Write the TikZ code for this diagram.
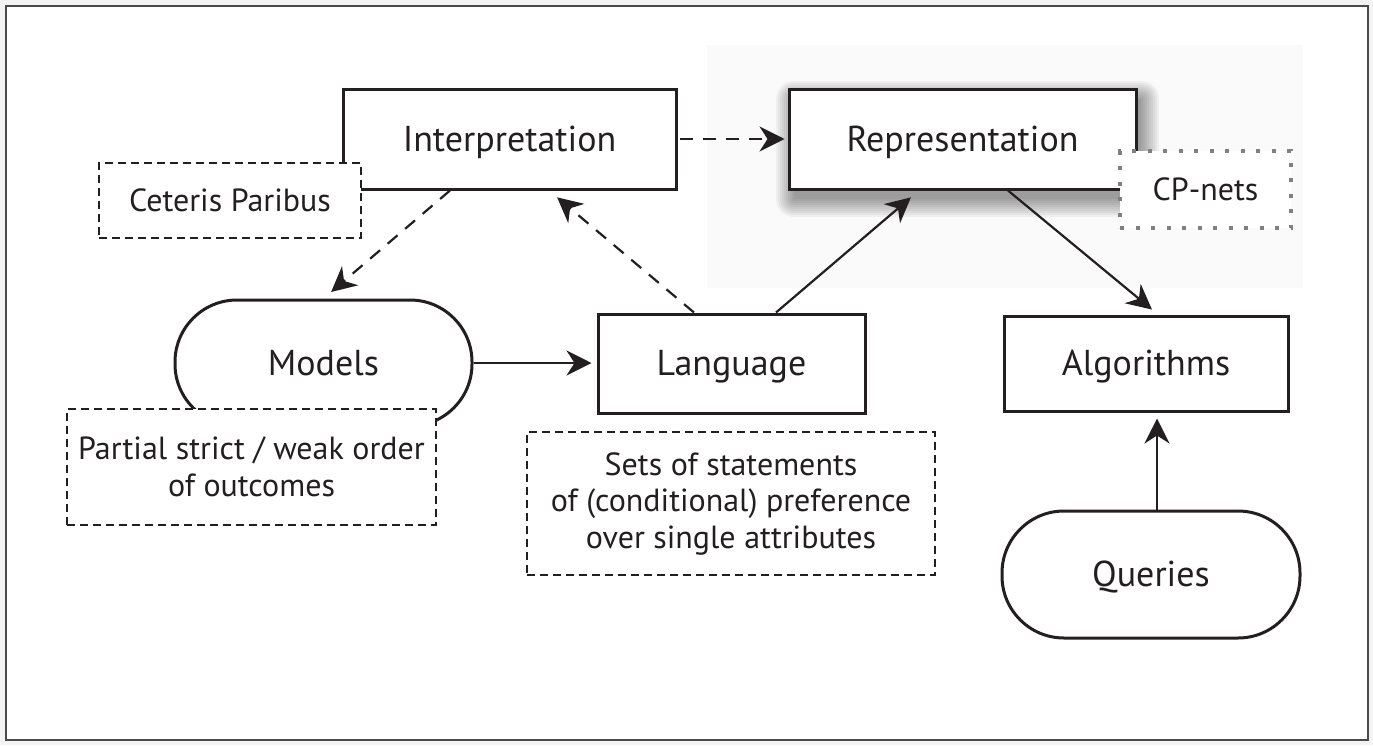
\documentclass[tikz,border=0pt]{standalone}
\usepackage{fontspec}
\setmainfont{PT Sans}
\usetikzlibrary{arrows.meta}
\definecolor{ink}{HTML}{231F20}
\definecolor{framec}{HTML}{4A4A4A}
\definecolor{cpgray}{HTML}{808080}
\definecolor{shadecol}{HTML}{FAFAFA}
\definecolor{outsidecol}{HTML}{F3F3F3}
\newcommand\BigLbl{\fontsize{36}{42}\selectfont}
\newcommand\SmallLbl{\fontsize{32}{36.5}\selectfont}
\begin{document}
\begin{tikzpicture}[x=1pt,y=-1pt,
  mainbox/.style={draw=ink, line width=3pt, fill=white, text=ink, font=\BigLbl, inner sep=0pt, text height=24pt, text depth=0pt},
  stadium/.style={mainbox, rounded corners=62pt},
  notebox/.style={draw=ink, line width=2.6pt, dash pattern=on 8pt off 5pt, fill=white, text=ink, font=\SmallLbl, inner sep=0pt, align=center},
  cpbox/.style={draw=cpgray, line width=4pt, dash pattern=on 4pt off 11.5pt, fill=white, text=ink, font=\SmallLbl, inner sep=0pt},
  conn/.style={draw=ink, line width=2.2pt, -{Stealth[length=25pt,width=25pt,inset=8pt]}},
  dconn/.style={conn, dash pattern=on 13pt off 10pt},
]
\useasboundingbox (0,0) rectangle (1373,745);
\fill[outsidecol] (0,0) rectangle (1373,745);
\draw[framec, line width=2.5pt, fill=white] (6,6) rectangle (1368,740);
\fill[shadecol] (707,45) rectangle (1303,288);
% soft shadow of the Representation box
\foreach \r in {0,2,...,18}
  \fill[black, opacity=0.045, rounded corners=\r pt] ({794-\r},{99-\r}) rectangle ({1141+\r},{199+\r});

\node[mainbox, minimum width=333pt, minimum height=100pt] (interp) at (509.5,139) {Interpretation};
\node[mainbox, minimum width=347pt, minimum height=100pt] (rep) at (962.5,139) {Representation};
\node[notebox, minimum width=262pt, minimum height=75pt] (ceteris) at (230,200.5) {Ceteris Paribus};
\node[cpbox, minimum width=171pt, minimum height=77pt] (cp) at (1205.5,189.5) {CP-nets};
\node[stadium, minimum width=297pt, minimum height=126pt] (models) at (323.5,363) {Models};
\node[notebox, minimum width=369pt, minimum height=116pt] (partial) at (251.5,467) {Partial strict / weak order\\of outcomes};
\node[mainbox, minimum width=267pt, minimum height=99pt] (lang) at (731.5,363.5) {Language};
\node[notebox, minimum width=408pt, minimum height=143pt] (sets) at (731,503.5) {Sets of statements\\of (conditional) preference\\over single attributes};
\node[mainbox, minimum width=284pt, minimum height=95pt] (alg) at (1146,363.5) {Algorithms};
\node[stadium, minimum width=298pt, minimum height=127pt] (queries) at (1151,574.5) {Queries};

\draw[dconn, shorten <=2pt, shorten >=3pt] (interp.east) -- (rep.west);
\draw[dconn, shorten >=10pt] ([xshift=-59.5pt]interp.south) -- (models.north);
\draw[dconn, shorten >=10.6pt] ([xshift=-37.5pt]lang.north) -- ([xshift=39.5pt]interp.south);
\draw[conn, shorten >=10.6pt] ([xshift=44.5pt]lang.north) -- ([xshift=-43.5pt]rep.south);
\draw[conn, shorten >=5pt] (models.east) -- (models.east -| lang.west);
\draw[conn, shorten >=7.8pt] ([xshift=45.5pt]rep.south) -- ([xshift=12pt]alg.north);
\draw[conn, shorten >=6pt] ([xshift=6pt]queries.north) -- ([xshift=6pt]queries.north |- alg.south);
\end{tikzpicture}
\end{document}
